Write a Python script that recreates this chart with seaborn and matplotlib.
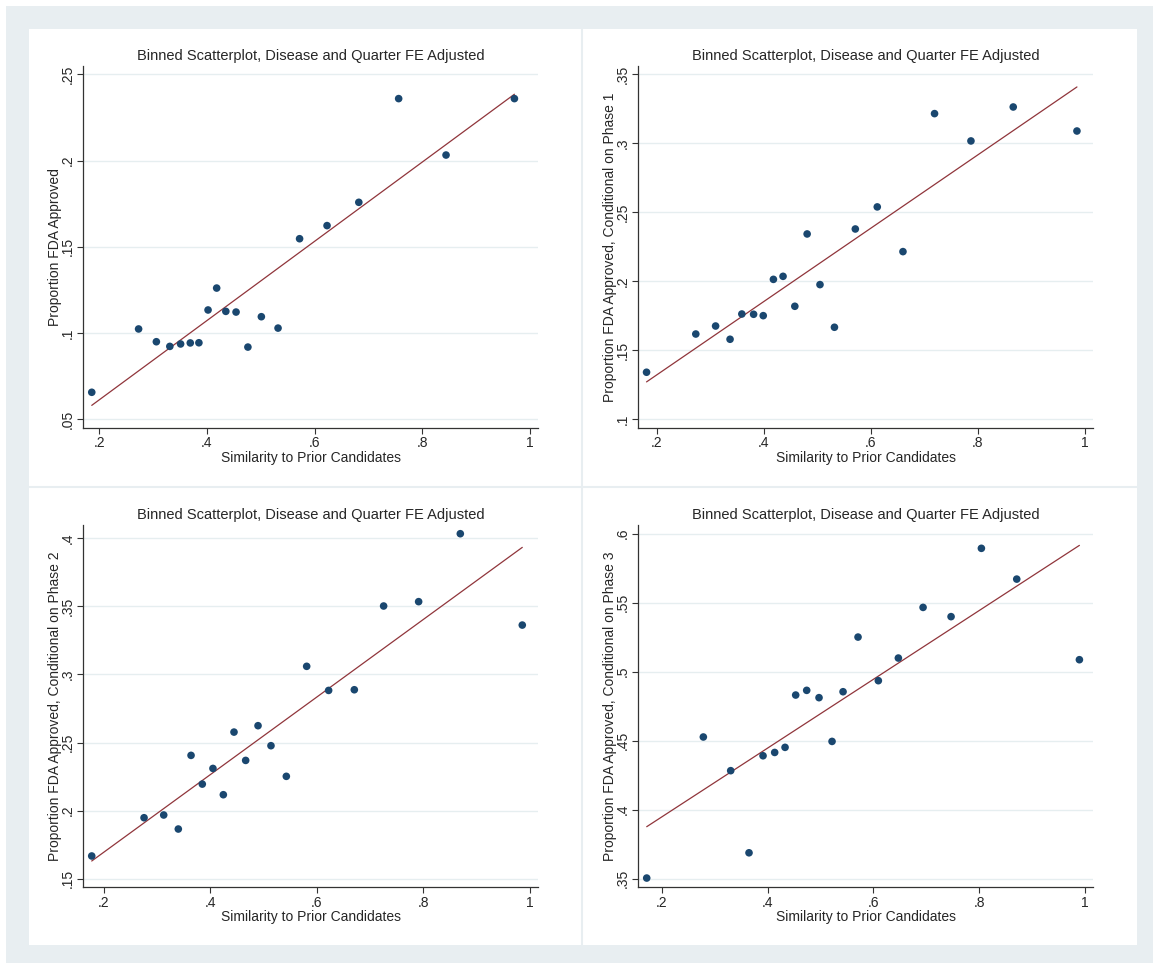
import numpy as np
import pandas as pd
import matplotlib
matplotlib.use("Agg")
import matplotlib.pyplot as plt
from matplotlib.patches import Rectangle
from matplotlib.lines import Line2D
from matplotlib.ticker import FuncFormatter
import seaborn as sns

# binned scatter values
x_approved = [0.186, 0.273, 0.306, 0.331, 0.351, 0.369, 0.385, 0.402, 0.418, 0.435,
              0.454, 0.476, 0.501, 0.532, 0.572, 0.623, 0.682, 0.756, 0.844, 0.971]
y_approved = [0.0657, 0.1024, 0.0950, 0.0923, 0.0937, 0.0943, 0.0944, 0.1134, 0.1261, 0.1126,
              0.1122, 0.0919, 0.1095, 0.1029, 0.1547, 0.1623, 0.1758, 0.2359, 0.2032, 0.2359]

x_phase1 = [0.181, 0.273, 0.310, 0.337, 0.359, 0.381, 0.399, 0.418, 0.436, 0.458,
            0.481, 0.505, 0.532, 0.571, 0.612, 0.660, 0.719, 0.787, 0.866, 0.985]
y_phase1 = [0.1341, 0.1618, 0.1676, 0.1580, 0.1763, 0.1761, 0.1751, 0.2014, 0.2036, 0.1819,
            0.2343, 0.1976, 0.1667, 0.2379, 0.2539, 0.2215, 0.3215, 0.3017, 0.3263, 0.3089]

x_phase2 = [0.1775, 0.2757, 0.3126, 0.340, 0.3639, 0.385, 0.405, 0.4245, 0.4445, 0.4664,
            0.4896, 0.5139, 0.5427, 0.5809, 0.6221, 0.6703, 0.7253, 0.791, 0.8692, 0.9855]
y_phase2 = [0.1667, 0.1948, 0.1968, 0.1865, 0.2406, 0.2195, 0.2310, 0.2117, 0.2577, 0.2369,
            0.2624, 0.2477, 0.2252, 0.3060, 0.2883, 0.2888, 0.3503, 0.3535, 0.4034, 0.3363]

x_phase3 = [0.1717, 0.2787, 0.3304, 0.365, 0.3915, 0.4135, 0.4331, 0.4532, 0.474, 0.4973,
            0.5219, 0.5427, 0.571, 0.6094, 0.6472, 0.6939, 0.7468, 0.8041, 0.8709, 0.9893]
y_phase3 = [0.3505, 0.4527, 0.4283, 0.3688, 0.4391, 0.4415, 0.4452, 0.4831, 0.4865, 0.4812,
            0.4495, 0.4855, 0.5251, 0.4935, 0.5099, 0.5466, 0.5399, 0.5894, 0.5671, 0.5087]

# linear fit (intercept, slope) per panel
fit_approved = (0.0154, 0.2297)
fit_phase1 = (0.0790, 0.2658)
fit_phase2 = (0.1124, 0.2851)
fit_phase3 = (0.3449, 0.2493)

y_labels = ["Proportion FDA Approved",
            "Proportion FDA Approved, Conditional on Phase 1",
            "Proportion FDA Approved, Conditional on Phase 2",
            "Proportion FDA Approved, Conditional on Phase 3"]
y_ticks = [[0.05, 0.1, 0.15, 0.2, 0.25],
           [0.1, 0.15, 0.2, 0.25, 0.3, 0.35],
           [0.15, 0.2, 0.25, 0.3, 0.35, 0.4],
           [0.35, 0.4, 0.45, 0.5, 0.55, 0.6]]
x_ticks = [0.2, 0.4, 0.6, 0.8, 1.0]
title = "Binned Scatterplot, Disease and Quarter FE Adjusted"
x_label = "Similarity to Prior Candidates"

sns.set_style("white")
plt.rcParams['font.family'] = ['Liberation Sans', 'DejaVu Sans']

NAVY = "#1a476f"
MAROON = "#90353b"
BG = "#e8eef1"
GRID = "#e6eef0"

fig = plt.figure(figsize=(11.53, 9.63), dpi=100)
fig.patch.set_facecolor("white")

# Stata-like frame
W, H = 1153.0, 963.0
fig.patches.append(Rectangle((6 / W, 0), 1 - 6 / W, 1 - 6 / H, transform=fig.transFigure,
                             facecolor=BG, edgecolor="none", zorder=-3))
fig.patches.append(Rectangle((29 / W, 1 - 945 / H), (1137 - 29) / W, (945 - 29) / H,
                             transform=fig.transFigure, facecolor="white", edgecolor="none", zorder=-2))
fig.lines.append(Line2D([582 / W, 582 / W], [1 - 945 / H, 1 - 29 / H], transform=fig.transFigure,
                        color=BG, lw=1.5, zorder=-1))
fig.lines.append(Line2D([29 / W, 1137 / W], [1 - 487 / H, 1 - 487 / H], transform=fig.transFigure,
                        color=BG, lw=1.5, zorder=-1))

panels = [
    (x_approved, y_approved, fit_approved, (83.3, 66, 538, 428), (0.1703, 1.0148), (0.0450, 0.2548)),
    (x_phase1, y_phase1, fit_phase1, (638.3, 66, 1093, 428), (0.1656, 1.015), (0.0937, 0.3560)),
    (x_phase2, y_phase2, fit_phase2, (83.3, 525, 538, 887.3), (0.1617, 1.015), (0.1437, 0.4098)),
    (x_phase3, y_phase3, fit_phase3, (638.3, 525, 1093, 887.3), (0.1558, 1.015), (0.3438, 0.6063)),
]

fmt = FuncFormatter(lambda v, p: ("%g" % round(v, 3)).replace("0.", ".", 1) if v < 1 else "%g" % v)

for i, (xs, ys, fit, box, xl, yl) in enumerate(panels):
    l, t, r, b = box
    ax = fig.add_axes([l / W, 1 - b / H, (r - l) / W, (b - t) / H])
    ax.set_facecolor("none")
    df = pd.DataFrame({"x": xs, "y": ys})
    line = pd.DataFrame({"x": [min(xs), max(xs)]})
    line["y"] = fit[0] + fit[1] * line["x"]
    sns.lineplot(data=line, x="x", y="y", ax=ax, color=MAROON, lw=0.9, zorder=2)
    sns.scatterplot(data=df, x="x", y="y", ax=ax, color=NAVY, s=30, edgecolor="none", zorder=3)

    ax.set_xlim(*xl)
    ax.set_ylim(*yl)
    ax.set_xticks(x_ticks)
    ax.set_yticks(y_ticks[i])
    ax.xaxis.set_major_formatter(fmt)
    ax.yaxis.set_major_formatter(fmt)
    ax.grid(axis="y", color=GRID, lw=1.0)
    ax.grid(axis="x", visible=False)
    for s in ["top", "right"]:
        ax.spines[s].set_visible(False)
    for s in ["left", "bottom"]:
        ax.spines[s].set_color("#333333")
        ax.spines[s].set_linewidth(0.9)
    ax.tick_params(axis="both", direction="out", length=4, width=0.8, color="#333333",
                   labelsize=10, pad=2, bottom=True, left=True)
    plt.setp(ax.get_yticklabels(), rotation=90, va="center")
    ax.set_xlabel(x_label, fontsize=10, labelpad=0.5)
    ax.set_ylabel(y_labels[i], fontsize=10, labelpad=-0.5)
    ax.set_title(title, fontsize=10.5, pad=4)

fig.savefig("out.png", dpi=100)
